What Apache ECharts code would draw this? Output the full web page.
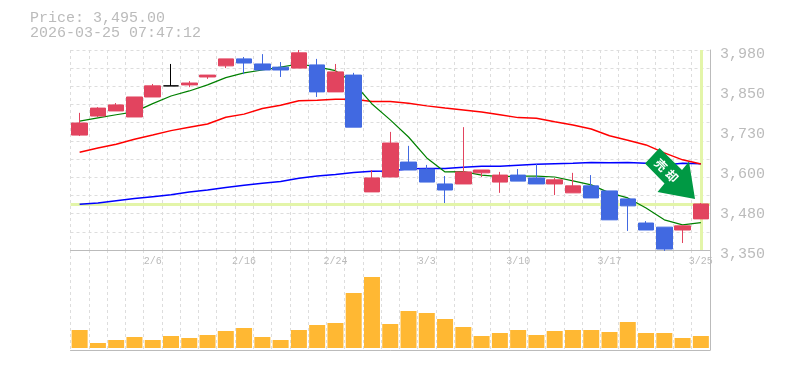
<!DOCTYPE html>
<html>
<head>
<meta charset="utf-8">
<style>
  html, body { margin: 0; padding: 0; background: #fff; }
  #chart { width: 785px; height: 370px; }
</style>
<script src="https://cdn.jsdelivr.net/npm/echarts@6/dist/echarts.min.js"></script>
</head>
<body>
<div id="chart"></div>
<script>
const priceText = 'Price: 3,495.00'
const timeText = '2026-03-25 07:47:12'
const lastPrice = 3495
const signalText = ['売', '却']

const dates = ['2/2', '2/3', '2/4', '2/5', '2/6', '2/9', '2/10', '2/12', '2/13', '2/16',
  '2/17', '2/18', '2/19', '2/20', '2/24', '2/25', '2/26', '2/27', '3/2', '3/3',
  '3/4', '3/5', '3/6', '3/9', '3/10', '3/11', '3/12', '3/13', '3/16', '3/17',
  '3/18', '3/19', '3/23', '3/24', '3/25']

const priceTicks = [3350, 3476, 3602, 3728, 3854, 3980]

// open, close, low, high
const candles = [
  [3712, 3750, 3709, 3782], [3772, 3797, 3769, 3800], [3788, 3807, 3788, 3813],
  [3769, 3832, 3769, 3832], [3832, 3867, 3832, 3873], [3867, 3867, 3867, 3936],
  [3870, 3876, 3863, 3882], [3895, 3901, 3889, 3901], [3930, 3952, 3923, 3952],
  [3952, 3939, 3904, 3958], [3936, 3917, 3917, 3967], [3926, 3917, 3895, 3942],
  [3923, 3971, 3923, 3980], [3933, 3848, 3832, 3952], [3848, 3911, 3848, 3936],
  [3901, 3737, 3737, 3908], [3533, 3577, 3533, 3602], [3580, 3687, 3580, 3722],
  [3627, 3602, 3602, 3678], [3605, 3564, 3564, 3618], [3558, 3539, 3498, 3583],
  [3558, 3596, 3558, 3737], [3593, 3602, 3580, 3602], [3564, 3586, 3530, 3596],
  [3586, 3567, 3567, 3605], [3577, 3558, 3558, 3621], [3558, 3571, 3523, 3577],
  [3530, 3552, 3530, 3593], [3552, 3514, 3514, 3586], [3536, 3445, 3445, 3536],
  [3511, 3489, 3410, 3511], [3435, 3413, 3413, 3441], [3422, 3353, 3347, 3422],
  [3413, 3426, 3372, 3426], [3448, 3495, 3448, 3498]
]

const maShort = [3756, 3766, 3776, 3785, 3811, 3835, 3851, 3870, 3893, 3908, 3917, 3926,
  3936, 3927, 3915, 3876, 3810, 3760, 3706, 3640, 3596, 3597, 3586, 3581, 3583, 3583,
  3580, 3568, 3555, 3530, 3514, 3482, 3445, 3429, 3436]

const maMiddle = [3658, 3671, 3683, 3699, 3712, 3726, 3737, 3747, 3768, 3778, 3796, 3806,
  3820, 3822, 3825, 3825, 3818, 3818, 3812, 3804, 3797, 3791, 3785, 3776, 3767, 3765,
  3754, 3744, 3731, 3710, 3696, 3681, 3656, 3634, 3621]

const maLong = [3494, 3498, 3505, 3512, 3518, 3524, 3533, 3539, 3547, 3554, 3560, 3566,
  3576, 3583, 3588, 3594, 3598, 3599, 3606, 3607, 3607, 3611, 3614, 3614, 3617, 3620,
  3622, 3623, 3626, 3625, 3626, 3623, 3618, 3623, 3622]

const volumes = [18, 5, 8, 11, 8, 12, 10, 13, 17, 20, 11, 8, 18, 23, 25, 55, 71, 24,
  37, 35, 29, 21, 12, 15, 18, 13, 17, 18, 18, 16, 26, 15, 15, 10, 12]

const FONT = '"Liberation Mono", monospace'
const GREY = '#bbbbbb'
const GRID = '#dddddd'
const UP = '#e2445f'
const DOWN = '#4169e1'
const HILITE = '#e3f5a9'
const DASH = [3, 3]

const chart = echarts.init(document.getElementById('chart'))

function priceLabel(v) {
  // the printed ticks are rounded to tens
  return '{p|' + (Math.round(v / 10) * 10).toLocaleString('en-US') + '}'
}

function lineSeries(name, data, color, width) {
  return {
    name: name,
    type: 'line',
    data: data,
    xAxisIndex: 0,
    yAxisIndex: 0,
    symbol: 'none',
    silent: true,
    z: 3,
    lineStyle: { color: color, width: width }
  }
}

const splitX = { show: true, interval: 0, lineStyle: { color: GRID, type: DASH, width: 1 } }

chart.setOption({
  animation: false,
  backgroundColor: '#fff',
  title: {
    text: priceText + '\n' + timeText,
    left: 30,
    top: 11,
    padding: 0,
    textStyle: { color: GREY, fontFamily: FONT, fontSize: 15, fontWeight: 'normal', lineHeight: 15 }
  },
  grid: [
    { left: 70.5, right: 75, top: 50, height: 200 },
    { left: 70.5, right: 75, top: 250, height: 100 }
  ],
  xAxis: [
    {
      type: 'category',
      data: dates,
      gridIndex: 0,
      axisLine: { show: true, lineStyle: { color: GREY } },
      axisTick: { show: false },
      axisLabel: {
        color: GREY,
        fontFamily: FONT,
        fontSize: 10,
        margin: 6,
        hideOverlap: false,
        showMaxLabel: true,
        interval: function(i) {
          return i % 5 === 4
        }
      },
      splitLine: splitX
    },
    {
      type: 'category',
      data: dates,
      gridIndex: 1,
      axisLine: { show: true, onZero: false, lineStyle: { color: GREY } },
      axisTick: { show: false },
      axisLabel: { show: false },
      splitLine: splitX
    }
  ],
  yAxis: [
    {
      type: 'value',
      gridIndex: 0,
      position: 'right',
      min: 3350,
      max: 3980,
      axisLine: { show: true, lineStyle: { color: GREY } },
      axisTick: { show: false },
      splitLine: { show: false },
      axisLabel: {
        customValues: priceTicks,
        margin: 10,
        formatter: priceLabel,
        rich: {
          p: {
            color: GREY,
            fontFamily: FONT,
            fontSize: 15,
            padding: [8, 0, 0, 0]
          }
        }
      }
    },
    {
      // horizontal dashed lines only
      type: 'value',
      gridIndex: 0,
      position: 'left',
      min: 0,
      max: 11,
      interval: 1,
      axisLine: { show: false },
      axisTick: { show: false },
      axisLabel: { show: false },
      splitLine: { show: true, lineStyle: { color: GRID, type: DASH, width: 1 } }
    },
    {
      type: 'value',
      gridIndex: 1,
      position: 'right',
      min: -2,
      max: 98,
      axisLine: { show: true, lineStyle: { color: GREY } },
      axisTick: { show: false },
      axisLabel: { show: false },
      splitLine: { show: false }
    }
  ],
  series: [
    {
      name: 'last',
      type: 'line',
      data: [],
      xAxisIndex: 0,
      yAxisIndex: 0,
      z: 2,
      silent: true,
      markLine: {
        z: 2,
        silent: true,
        symbol: 'none',
        label: { show: false },
        lineStyle: { color: HILITE, width: 3, type: 'solid' },
        data: [{ yAxis: lastPrice }, { xAxis: dates[dates.length - 1] }]
      }
    },
    lineSeries('long', maLong, '#0000ff', 1.5),
    lineSeries('middle', maMiddle, '#ff0000', 1.5),
    lineSeries('short', maShort, '#008000', 1.2),
    {
      name: 'price',
      type: 'candlestick',
      data: candles,
      xAxisIndex: 0,
      yAxisIndex: 0,
      barWidth: 16,
      z: 4,
      itemStyle: {
        color: UP,
        color0: DOWN,
        borderColor: UP,
        borderColor0: DOWN,
        borderColorDoji: '#000000',
        borderWidth: 1
      }
    },
    {
      name: 'volume',
      type: 'bar',
      data: volumes,
      xAxisIndex: 1,
      yAxisIndex: 2,
      barWidth: 16,
      itemStyle: { color: '#ffb833' }
    }
  ],
  graphic: [
    {
      type: 'polygon',
      z: 50,
      shape: {
        points: [[659.5, 148], [645, 163.5], [664.5, 183.5], [657.5, 192], [695, 199], [689, 161.5], [682, 170]]
      },
      style: { fill: '#009944' }
    },
    {
      type: 'text',
      z: 51,
      x: 661,
      y: 165,
      rotation: -Math.PI / 4,
      style: {
        text: signalText[0],
        fill: '#fff',
        font: 'bold 12px "Noto Sans CJK JP"',
        align: 'center',
        verticalAlign: 'middle'
      }
    },
    {
      type: 'text',
      z: 51,
      x: 672,
      y: 176,
      rotation: -Math.PI / 4,
      style: {
        text: signalText[1],
        fill: '#fff',
        font: 'bold 12px "Noto Sans CJK JP"',
        align: 'center',
        verticalAlign: 'middle'
      }
    }
  ]
})
</script>
</body>
</html>
